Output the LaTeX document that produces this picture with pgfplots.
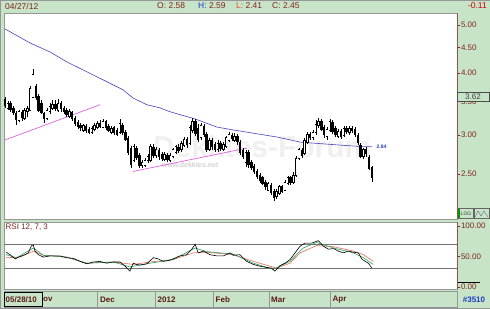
\documentclass[border=0pt]{standalone}
\usepackage{pgfplots}
\pgfplotsset{compat=1.18}
\usepackage{fontspec}
\setmainfont{Liberation Sans}
\definecolor{bggreen}{RGB}{200,228,200}
\definecolor{maroon}{RGB}{128,36,30}
\definecolor{mablue}{RGB}{70,70,190}
\definecolor{trend}{RGB}{220,100,220}
\definecolor{hblue}{RGB}{30,60,200}
\definecolor{lorange}{RGB}{230,80,30}
\definecolor{rsigreen}{RGB}{40,160,90}
\definecolor{rsired}{RGB}{230,110,90}
\definecolor{framec}{RGB}{150,150,150}

% candle index: low -> high (wicks)
\def\wicks{(0,3.40) (0,3.58) (0,nan) (1,3.37) (1,3.51) (1,nan) (2,3.34) (2,3.51) (2,nan) (3,3.29) (3,3.43) (3,nan) (4,3.14) (4,3.35) (4,nan) (5,3.18) (5,3.37) (5,nan) (6,3.20) (6,3.37) (6,nan) (7,3.21) (7,3.40) (7,nan) (8,3.26) (8,3.43) (8,nan) (9,3.35) (9,3.76) (9,nan) (10,3.56) (10,4.08) (10,nan) (11,3.53) (11,3.80) (11,nan) (12,3.34) (12,3.63) (12,nan) (13,3.30) (13,3.53) (13,nan) (14,3.17) (14,3.34) (14,nan) (15,3.21) (15,3.40) (15,nan) (16,3.30) (16,3.48) (16,nan) (17,3.37) (17,3.53) (17,nan) (18,3.35) (18,3.53) (18,nan) (19,3.34) (19,3.54) (19,nan) (20,3.34) (20,3.51) (20,nan) (21,3.30) (21,3.43) (21,nan) (22,3.26) (22,3.40) (22,nan) (23,3.24) (23,3.38) (23,nan) (24,3.20) (24,3.35) (24,nan) (25,3.13) (25,3.27) (25,nan) (26,3.08) (26,3.21) (26,nan) (27,3.05) (27,3.17) (27,nan) (28,3.04) (28,3.15) (28,nan) (29,3.03) (29,3.15) (29,nan) (30,3.01) (30,3.11) (30,nan) (31,3.01) (31,3.13) (31,nan) (32,3.05) (32,3.17) (32,nan) (33,3.08) (33,3.20) (33,nan) (34,3.10) (34,3.21) (34,nan) (35,3.10) (35,3.23) (35,nan) (36,3.07) (36,3.21) (36,nan) (37,3.04) (37,3.15) (37,nan) (38,3.01) (38,3.13) (38,nan) (39,3.00) (39,3.13) (39,nan) (40,2.98) (40,3.10) (40,nan) (41,3.01) (41,3.23) (41,nan) (42,3.00) (42,3.17) (42,nan) (43,2.92) (43,3.07) (43,nan) (44,2.73) (44,2.98) (44,nan) (45,2.57) (45,2.85) (45,nan) (46,2.64) (46,2.87) (46,nan) (47,2.67) (47,2.85) (47,nan) (48,2.57) (48,2.76) (48,nan) (49,2.57) (49,2.67) (49,nan) (50,2.58) (50,2.69) (50,nan) (51,2.63) (51,2.74) (51,nan) (52,2.64) (52,2.87) (52,nan) (53,2.69) (53,2.87) (53,nan) (54,2.69) (54,2.84) (54,nan) (55,2.67) (55,2.82) (55,nan) (56,2.66) (56,2.77) (56,nan) (57,2.66) (57,2.77) (57,nan) (58,2.64) (58,2.76) (58,nan) (59,2.64) (59,2.76) (59,nan) (60,2.69) (60,2.82) (60,nan) (61,2.74) (61,2.86) (61,nan) (62,2.76) (62,2.87) (62,nan) (63,2.77) (63,2.92) (63,nan) (64,2.84) (64,2.97) (64,nan) (65,2.82) (65,2.97) (65,nan) (66,2.86) (66,3.14) (66,nan) (67,3.03) (67,3.24) (67,nan) (68,2.98) (68,3.23) (68,nan) (69,2.90) (69,3.15) (69,nan) (70,2.93) (70,3.17) (70,nan) (71,2.97) (71,3.15) (71,nan) (72,2.77) (72,3.04) (72,nan) (73,2.78) (73,2.96) (73,nan) (74,2.80) (74,2.96) (74,nan) (75,2.77) (75,2.90) (75,nan) (76,2.77) (76,2.93) (76,nan) (77,2.78) (77,2.92) (77,nan) (78,2.78) (78,2.90) (78,nan) (79,2.82) (79,2.98) (79,nan) (80,2.90) (80,3.04) (80,nan) (81,2.92) (81,3.03) (81,nan) (82,2.90) (82,3.03) (82,nan) (83,2.86) (83,3.01) (83,nan) (84,2.73) (84,2.93) (84,nan) (85,2.68) (85,2.82) (85,nan) (86,2.58) (86,2.80) (86,nan) (87,2.57) (87,2.80) (87,nan) (88,2.55) (88,2.67) (88,nan) (89,2.50) (89,2.62) (89,nan) (90,2.44) (90,2.56) (90,nan) (91,2.40) (91,2.51) (91,nan) (92,2.38) (92,2.48) (92,nan) (93,2.32) (93,2.43) (93,nan) (94,2.31) (94,2.41) (94,nan) (95,2.27) (95,2.40) (95,nan) (96,2.20) (96,2.33) (96,nan) (97,2.23) (97,2.33) (97,nan) (98,2.27) (98,2.38) (98,nan) (99,2.29) (99,2.38) (99,nan) (100,2.31) (100,2.43) (100,nan) (101,2.37) (101,2.48) (101,nan) (102,2.38) (102,2.48) (102,nan) (103,2.39) (103,2.52) (103,nan) (104,2.47) (104,2.72) (104,nan) (105,2.67) (105,2.82) (105,nan) (106,2.69) (106,2.82) (106,nan) (107,2.73) (107,2.96) (107,nan) (108,2.87) (108,3.04) (108,nan) (109,2.93) (109,3.04) (109,nan) (110,2.93) (110,3.07) (110,nan) (111,3.00) (111,3.21) (111,nan) (112,3.10) (112,3.24) (112,nan) (113,3.05) (113,3.23) (113,nan) (114,2.96) (114,3.14) (114,nan) (115,2.93) (115,3.11) (115,nan) (116,3.04) (116,3.23) (116,nan) (117,3.01) (117,3.21) (117,nan) (118,2.97) (118,3.13) (118,nan) (119,2.96) (119,3.08) (119,nan) (120,2.94) (120,3.08) (120,nan) (121,2.97) (121,3.13) (121,nan) (122,3.01) (122,3.13) (122,nan) (123,3.00) (123,3.13) (123,nan) (124,3.03) (124,3.13) (124,nan) (125,2.97) (125,3.11) (125,nan) (126,2.86) (126,3.03) (126,nan) (127,2.69) (127,2.89) (127,nan) (128,2.68) (128,2.82) (128,nan) (129,2.71) (129,2.84) (129,nan) (130,2.55) (130,2.73) (130,nan) (131,2.41) (131,2.59)}

% falling candles: open -> close
\def\bearbody{(0,3.54) (0,3.43) (0,nan) (2,3.48) (2,3.37) (2,nan) (3,3.40) (3,3.32) (3,nan) (4,3.32) (4,3.21) (4,nan) (6,3.34) (6,3.24) (6,nan) (11,3.76) (11,3.56) (11,nan) (12,3.59) (12,3.35) (12,nan) (13,3.48) (13,3.32) (13,nan) (14,3.32) (14,3.23) (14,nan) (18,3.46) (18,3.38) (18,nan) (20,3.48) (20,3.38) (20,nan) (21,3.40) (21,3.34) (21,nan) (22,3.37) (22,3.29) (22,nan) (24,3.34) (24,3.23) (24,nan) (25,3.24) (25,3.15) (25,nan) (26,3.18) (26,3.11) (26,nan) (27,3.14) (27,3.10) (27,nan) (29,3.13) (29,3.05) (29,nan) (30,3.08) (30,3.03) (30,nan) (34,3.17) (34,3.11) (34,nan) (36,3.20) (36,3.10) (36,nan) (37,3.13) (37,3.05) (37,nan) (39,3.11) (39,3.03) (39,nan) (40,3.07) (40,3.00) (40,nan) (42,3.14) (42,3.03) (42,nan) (43,3.04) (43,2.93) (43,nan) (44,2.96) (44,2.76) (44,nan) (45,2.82) (45,2.61) (45,nan) (47,2.82) (47,2.69) (47,nan) (48,2.73) (48,2.60) (48,nan) (53,2.84) (53,2.72) (53,nan) (55,2.80) (55,2.71) (55,nan) (56,2.74) (56,2.68) (56,nan) (58,2.73) (58,2.67) (58,nan) (62,2.84) (62,2.78) (62,nan) (65,2.94) (65,2.86) (65,nan) (68,3.20) (68,3.01) (68,nan) (69,3.10) (69,2.93) (69,nan) (71,3.13) (71,3.00) (71,nan) (72,3.01) (72,2.80) (72,nan) (74,2.93) (74,2.84) (74,nan) (75,2.87) (75,2.80) (75,nan) (77,2.89) (77,2.81) (77,nan) (81,3.00) (81,2.94) (81,nan) (83,2.98) (83,2.90) (83,nan) (84,2.90) (84,2.76) (84,nan) (85,2.80) (85,2.71) (85,nan) (87,2.77) (87,2.61) (87,nan) (88,2.64) (88,2.57) (88,nan) (89,2.60) (89,2.52) (89,nan) (90,2.54) (90,2.47) (90,nan) (91,2.49) (91,2.42) (91,nan) (92,2.46) (92,2.39) (92,nan) (93,2.41) (93,2.35) (93,nan) (95,2.38) (95,2.29) (95,nan) (96,2.31) (96,2.24) (96,nan) (99,2.36) (99,2.30) (99,nan) (102,2.46) (102,2.40) (102,nan) (106,2.80) (106,2.72) (106,nan) (109,3.01) (109,2.96) (109,nan) (113,3.20) (113,3.07) (113,nan) (114,3.11) (114,3.00) (114,nan) (117,3.18) (117,3.04) (117,nan) (118,3.10) (118,3.00) (118,nan) (120,3.05) (120,2.97) (120,nan) (122,3.10) (122,3.04) (122,nan) (124,3.10) (124,3.05) (124,nan) (125,3.08) (125,3.00) (125,nan) (126,3.00) (126,2.89) (126,nan) (127,2.86) (127,2.71) (127,nan) (129,2.81) (129,2.74) (129,nan) (130,2.71) (130,2.56) (130,nan) (131,2.58) (131,2.45)}

% rising candles: open -> close
\def\bullbody{(1,3.40) (1,3.48) (1,nan) (5,3.21) (5,3.34) (5,nan) (7,3.24) (7,3.37) (7,nan) (8,3.34) (8,3.40) (8,nan) (9,3.37) (9,3.73) (9,nan) (10,3.58) (10,3.98) (10,nan) (15,3.24) (15,3.37) (15,nan) (16,3.34) (16,3.43) (16,nan) (17,3.40) (17,3.46) (17,nan) (19,3.37) (19,3.48) (19,nan) (23,3.27) (23,3.35) (23,nan) (28,3.07) (28,3.13) (28,nan) (31,3.04) (31,3.10) (31,nan) (32,3.08) (32,3.14) (32,nan) (33,3.11) (33,3.17) (33,nan) (35,3.11) (35,3.20) (35,nan) (38,3.04) (38,3.10) (38,nan) (41,3.04) (41,3.17) (41,nan) (46,2.67) (46,2.85) (46,nan) (49,2.60) (49,2.64) (49,nan) (50,2.61) (50,2.67) (50,nan) (51,2.66) (51,2.72) (51,nan) (52,2.67) (52,2.85) (52,nan) (54,2.73) (54,2.80) (54,nan) (57,2.68) (57,2.74) (57,nan) (59,2.67) (59,2.73) (59,nan) (60,2.72) (60,2.80) (60,nan) (61,2.77) (61,2.84) (61,nan) (63,2.80) (63,2.89) (63,nan) (64,2.86) (64,2.94) (64,nan) (66,2.89) (66,3.11) (66,nan) (67,3.07) (67,3.20) (67,nan) (70,2.96) (70,3.14) (70,nan) (73,2.80) (73,2.93) (73,nan) (76,2.80) (76,2.89) (76,nan) (78,2.81) (78,2.87) (78,nan) (79,2.85) (79,2.96) (79,nan) (80,2.93) (80,3.01) (80,nan) (82,2.93) (82,2.98) (82,nan) (86,2.64) (86,2.77) (86,nan) (94,2.32) (94,2.39) (94,nan) (97,2.25) (97,2.31) (97,nan) (98,2.29) (98,2.36) (98,nan) (100,2.32) (100,2.41) (100,nan) (101,2.39) (101,2.46) (101,nan) (103,2.41) (103,2.49) (103,nan) (104,2.49) (104,2.69) (104,nan) (105,2.69) (105,2.80) (105,nan) (107,2.76) (107,2.93) (107,nan) (108,2.90) (108,3.01) (108,nan) (110,2.96) (110,3.04) (110,nan) (111,3.03) (111,3.15) (111,nan) (112,3.13) (112,3.20) (112,nan) (115,2.98) (115,3.08) (115,nan) (116,3.07) (116,3.20) (116,nan) (119,2.98) (119,3.05) (119,nan) (121,3.00) (121,3.10) (121,nan) (123,3.03) (123,3.10) (123,nan) (128,2.71) (128,2.80)}

\begin{document}
\begin{tikzpicture}
\useasboundingbox (0pt,0pt) rectangle (490pt,308pt);
\begin{scope}[x=1pt,y=1pt]
\fill[bggreen] (0,0) rectangle (490,308);
\draw[framec] (0.3,0.3) rectangle (489.7,307.7);
% header
\begin{scope}[font=\fontsize{8.5}{10}\selectfont]
\node[anchor=west, text=maroon, inner sep=0] at (5,302) {04/27/12};
\node[anchor=west, text=maroon, inner sep=0] at (157,302) {O: 2.58};
\node[anchor=west, inner sep=0] at (198,302) {\textcolor{hblue}{H:} \textcolor{maroon}{2.59}};
\node[anchor=west, inner sep=0] at (236,302) {\textcolor{lorange}{L:} \textcolor{maroon}{2.41}};
\node[anchor=west, text=maroon, inner sep=0] at (272,302) {C: 2.45};
\node[anchor=east, text=red!80!black, inner sep=0] at (487,302) {-0.11};
\end{scope}
\end{scope}

% price panel
\begin{axis}[
  at={(4pt,89pt)}, anchor=south west, scale only axis,
  width=453pt, height=206pt,
  xmin=-0.36, xmax=161.43,
  ymode=log, ymin=2.028, ymax=5.287,
  axis background/.style={fill=white},
  axis line style={draw=framec, line width=0.6pt},
  xtick=\empty,
  ytick={2.5,3,3.5,4,4.5,5},
  yticklabels={2.50,3.00,3.50,4.00,4.50,5.00},
  ytick pos=right, tick align=outside,
  major tick length=3pt,
  tick style={maroon, line width=0.5pt},
  yticklabel style={font=\fontsize{8}{9}\selectfont, text=maroon, inner sep=0.8pt},
  unbounded coords=jump,
]
% watermark
\node[text=gray!12, font=\fontsize{30}{30}\selectfont\bfseries] at (rel axis cs:0.570,0.350) {Dekktes-Forum};
\node[text=gray!35, font=\fontsize{7}{8}\selectfont\bfseries] at (rel axis cs:0.411,0.262) {www.dekktes.net};
% moving average
\addplot[mablue, line width=0.6pt] coordinates {
(0,4.91) (8.9,4.60) (16.1,4.41) (22.1,4.21) (29.3,4.02) (36.4,3.84) (42.1,3.70)
(45.7,3.56) (50.7,3.45) (55.4,3.40) (58.9,3.34) (67.9,3.23) (75.7,3.11)
(81.4,3.07) (87.5,3.03) (97.1,2.97) (105.4,2.90) (108.9,2.89) (119.6,2.86)
(127.5,2.84) (131,2.84)};
% trend lines
\addplot[trend, line width=0.7pt] coordinates {(-0.7,2.92) (33.9,3.45)};
\addplot[trend, line width=0.7pt] coordinates {(45.7,2.53) (86.4,2.82)};
% candles
\edef\tmp{\noexpand\addplot[black, line width=0.6pt] coordinates {\wicks};}\tmp
\edef\tmp{\noexpand\addplot[black, line width=2.3pt] coordinates {\bearbody};}\tmp
\edef\tmp{\noexpand\addplot[black, line width=2.3pt] coordinates {\bullbody};}\tmp
\edef\tmp{\noexpand\addplot[white, line width=1.1pt] coordinates {\bullbody};}\tmp
\edef\tmp{\noexpand\addplot[only marks, mark=-, mark size=1.15pt, mark options={black, line width=0.5pt}] coordinates {\bullbody};}\tmp
\node[anchor=west, text=hblue, font=\fontsize{5}{6}\selectfont\bfseries, inner sep=0.5pt] at (rel axis cs:0.821,0.352) {2.84};
\end{axis}

% RSI panel
\begin{axis}[
  at={(4pt,19pt)}, anchor=south west, scale only axis,
  width=453pt, height=67pt,
  xmin=-0.36, xmax=161.43, ymin=-3.3, ymax=106.6,
  axis background/.style={fill=white},
  axis line style={draw=framec, line width=0.6pt},
  xtick=\empty,
  ytick={0,50,100}, yticklabels={0.00,50.00,100.00},
  minor ytick={10,20,30,40,60,70,80,90},
  ytick pos=right, tick align=outside,
  major tick length=3pt, minor tick length=1.2pt,
  tick style={maroon, line width=0.5pt},
  yticklabel style={font=\fontsize{8}{9}\selectfont, text=maroon, inner sep=0.8pt},
]
\addplot[black!55, line width=1.3pt] coordinates {(-0.36,70) (161.43,70)};
\addplot[black!55, line width=1.3pt] coordinates {(-0.36,30) (161.43,30)};
\addplot[rsired, line width=0.6pt] coordinates {
(0.4,48) (5.4,49) (10.1,59) (13.7,52) (22,49) (29.2,39) (38.7,41) (45.8,37)
(51.8,41) (60.1,45) (67.3,56) (72,57) (81.5,53) (88.7,42) (97,31) (101.8,39)
(105.4,56) (111.3,68) (117.3,66) (124.4,59) (128,53) (131.5,42)};
\addplot[rsigreen, line width=0.6pt] coordinates {
(0.4,53) (4.2,48) (10.1,64) (13.7,52) (22,49) (29.2,39) (38.7,41) (44.6,33)
(51.8,39) (60.1,45) (67.9,64) (72,58) (81.5,54) (88.7,39) (95.8,29) (101.8,42)
(106.5,64) (111.3,73) (117.3,64) (124.4,56) (128,48) (131.5,37)};
\addplot[black, line width=0.6pt] coordinates {
(0.4,57) (1.8,53) (3.6,46) (4.8,49) (6,51) (7.1,53) (8.3,56) (9.5,68) (10.1,69)
(10.7,59) (11.9,53) (13.7,49) (16.1,51) (19.6,51) (22,48) (24.4,47) (26.8,42)
(29.2,38) (31.5,41) (33.9,42) (36.3,39) (38.7,41) (41.1,41) (42.9,34) (44.6,26)
(45.8,39) (47,37) (48.2,36) (50.6,38) (53,48) (54.8,46) (56.5,42) (58.9,44)
(62.5,51) (64.9,53) (66.7,62) (67.9,70) (69,56) (70.8,59) (73.2,53) (75.6,51)
(78,51) (80.4,56) (81.5,52) (83.9,53) (86.3,42) (88.7,37) (91.1,34) (93.5,32)
(95.2,31) (96.4,26) (98.2,35) (100,39) (101.8,45) (103.6,56) (105.4,67)
(107.1,72) (109.5,72) (111.9,76) (113.7,67) (115.5,62) (117.3,63) (119,59)
(120.8,56) (122.6,59) (124.4,57) (126.2,56) (127.4,46) (128.6,42) (129.8,39) (131,31)};
\node[anchor=north west, text=maroon, font=\fontsize{8}{9}\selectfont, inner sep=1.5pt] at (rel axis cs:0,1) {RSI 12, 7, 3};
\end{axis}

\begin{scope}[x=1pt,y=1pt]
% minor ticks of the price scale
\foreach \yy in {211.5,201.5,192.0,182.8,165.6,157.5,149.7,142.1,127.8,121.0,114.3,107.9,95.6,89.7,84.0,78.4,67.7,62.5,57.4,52.5,42.9,38.3,33.8,29.3,20.7,16.6}
  \draw[maroon, line width=0.5pt] (457,308-\yy) -- (458.3,308-\yy);
% right strip borders
\draw[maroon!80, line width=0.6pt] (457,89) -- (457,295);
\draw[maroon!80, line width=0.6pt] (457,19) -- (457,86);
\draw[black, line width=0.6pt] (458,26) -- (480,26);
% 3.62 box
\draw[black!70, fill=bggreen, line width=0.5pt] (457.5,207) rectangle (489,216);
\node[text=black!75, font=\fontsize{8}{9}\selectfont] at (473,211.5) {3.62};
% LOG box
\draw[black!60, fill=bggreen, line width=0.4pt] (458,89.5) rectangle (473,99.5);
\fill[green!60!black] (458.4,90) rectangle (459.6,99);
\node[text=black!80, font=\fontsize{5}{6}\selectfont] at (466,94.5) {LOG};
\draw[black!60, fill=bggreen, line width=0.4pt] (474,89.5) rectangle (489,99.5);
\draw[black!60, line width=0.4pt] (475,91) -- (478,97) -- (481,92) -- (484,97) -- (488,91);
% date bar
\draw[framec, line width=0.5pt] (4,1) rectangle (457,17);
\foreach \xx in {97,155,213,269,330} \draw[framec, line width=0.5pt] (\xx,1) -- (\xx,17);
\draw[black, line width=0.6pt] (4.5,2) rectangle (42,15.5);
\begin{scope}[font=\fontsize{8}{9}\selectfont\bfseries, text=maroon!70!black]
\node[anchor=west, inner sep=0] at (5.5,8.5) {05/28/10};
\node[anchor=west, inner sep=0] at (43,8.5) {ov};
\node[anchor=west, inner sep=0] at (100,8.5) {Dec};
\node[anchor=west, inner sep=0] at (157.5,8.5) {2012};
\node[anchor=west, inner sep=0] at (215.5,8.5) {Feb};
\node[anchor=west, inner sep=0] at (271,8.5) {Mar};
\node[anchor=west, inner sep=0] at (332.5,8.5) {Apr};
\end{scope}
\node[text=hblue, font=\fontsize{8}{9}\selectfont\bfseries] at (474,8.5) {\#3510};
\end{scope}
\end{tikzpicture}
\end{document}
